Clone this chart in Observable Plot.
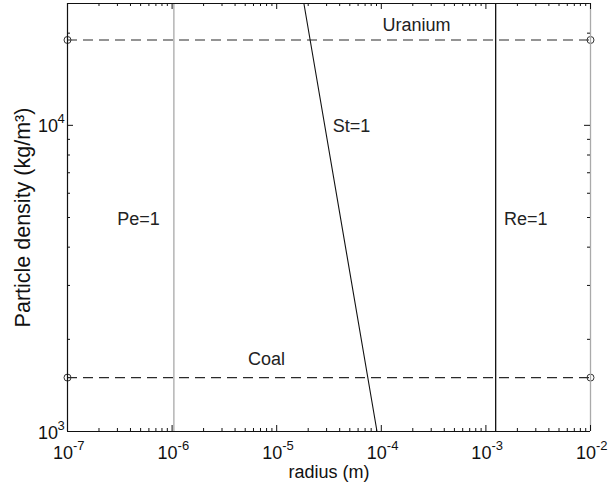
<!DOCTYPE html>
<html><head><meta charset="utf-8">
<script src="https://cdn.jsdelivr.net/npm/d3@7"></script>
<script src="https://cdn.jsdelivr.net/npm/@observablehq/plot@0.6"></script>
<style>body{margin:0;background:#fff} svg{display:block}</style>
</head><body><div id="chart"></div>
<script>
// ---- data ----
const xDomain = [1e-7, 1e-2];          // radius (m)
const yDomain = [1000, 25000];         // particle density (kg/m^3)
const xTickExps = [-7, -6, -5, -4, -3, -2];
const yTickExps = [3, 4];
const minorMultiples = [2, 3, 4, 5, 6, 7, 8, 9];

const materialNames = ["Uranium", "Coal"];
const materialDensity = [19000, 1500];

const boundaryNames = ["Pe=1", "Re=1"];
const boundaryRadius = [1.04e-6, 1.24e-3];

const stokesRadius = [1.82e-5, 9.1e-5];
const stokesDensity = [25000, 1000];

const labelText = ["Uranium", "St=1", "Pe=1", "Re=1", "Coal"];
const labelRadius = [2.17e-4, 5.19e-5, 4.77e-7, 2.41e-3, 7.98e-6];
const labelDensity = [20400, 9480, 4710, 4710, 1643];

const xLabel = "radius (m)";
const yLabel = "Particle density (kg/m³)";

// ---- derived tables ----
const xMajor = xTickExps.map(e => 10 ** e);
const yMajor = yTickExps.map(e => 10 ** e);
const xMinor = xTickExps.slice(0, -1).flatMap(e => minorMultiples.map(m => m * 10 ** e));
const yMinor = [...minorMultiples.map(m => m * 1000), 20000];
const endDots = materialDensity.flatMap(d => xDomain.map(x => ({x, y: d})));
const stokes = stokesRadius.map((r, i) => ({r, rho: stokesDensity[i]}));
const labels = labelText.map((t, i) => ({t, r: labelRadius[i], rho: labelDensity[i]}));
const boundaries = boundaryNames.map((n, i) => ({n, r: boundaryRadius[i]}));

const W = 608, H = 487, mL = 67, mR = 18, mT = 3, mB = 56;
const fw = W - mL - mR, fh = H - mT - mB;
const font = "'Liberation Sans', Arial, Helvetica, sans-serif";
const ink = "#111";

const chart = Plot.plot({
  width: W, height: H,
  marginLeft: mL, marginRight: mR, marginTop: mT, marginBottom: mB,
  style: {fontFamily: font, fontSize: "18px", background: "#fff", color: ink},
  x: {type: "log", domain: xDomain, axis: null},
  y: {type: "log", domain: yDomain, axis: null},
  marks: [
    // dashed material lines
    Plot.ruleY(materialDensity, {y: d => d, stroke: "#2a2a2a", strokeWidth: 1.1, strokeDasharray: "10,6"}),
    Plot.dot(endDots, {x: "x", y: "y", r: 3.5, stroke: "#333", strokeWidth: 1, fill: "none"}),
    // Pe=1 and Re=1
    Plot.ruleX(boundaries, {x: "r", stroke: d => d.n === "Pe=1" ? "#a8a8a8" : "#111", strokeWidth: 1.3}),
    // St=1
    Plot.line(stokes, {x: "r", y: "rho", stroke: "#111", strokeWidth: 1.1}),
    // frame
    Plot.ruleY([yDomain[1]], {stroke: ink, strokeWidth: 1.2}),
    Plot.ruleY([yDomain[0]], {stroke: ink, strokeWidth: 1.2}),
    Plot.ruleX([xDomain[0]], {stroke: ink, strokeWidth: 1.2}),
    Plot.ruleX([xDomain[1]], {stroke: "#aaa", strokeWidth: 1.3}),
    // x ticks bottom & top
    Plot.tickX(xMajor, {x: d => d, insetTop: fh - 6, stroke: ink}),
    Plot.tickX(xMinor, {x: d => d, insetTop: fh - 3, stroke: ink}),
    Plot.tickX(xMajor, {x: d => d, insetBottom: fh - 6, stroke: ink}),
    Plot.tickX(xMinor, {x: d => d, insetBottom: fh - 3, stroke: ink}),
    // y ticks left & right
    Plot.tickY(yMajor, {y: d => d, insetRight: fw - 6, stroke: ink}),
    Plot.tickY(yMinor, {y: d => d, insetRight: fw - 3, stroke: ink}),
    Plot.tickY(yMajor, {y: d => d, insetLeft: fw - 6, stroke: ink}),
    Plot.tickY(yMinor, {y: d => d, insetLeft: fw - 3, stroke: ink}),
    // x tick labels
    Plot.text(xTickExps, {x: e => 10 ** e, frameAnchor: "bottom", text: () => "10", textAnchor: "end",
      lineAnchor: "bottom", dx: 5.5, dy: 27, fontSize: 18, fill: ink}),
    Plot.text(xTickExps, {x: e => 10 ** e, frameAnchor: "bottom", text: e => `${e}`, textAnchor: "start",
      lineAnchor: "bottom", dx: 5.5, dy: 18, fontSize: 13, fill: ink}),
    // y tick labels
    Plot.text(yTickExps, {y: e => 10 ** e, frameAnchor: "left", text: () => "10", textAnchor: "end",
      lineAnchor: "bottom", dx: -9.5, dy: 7, fontSize: 18, fill: ink}),
    Plot.text(yTickExps, {y: e => 10 ** e, frameAnchor: "left", text: e => `${e}`, textAnchor: "start",
      lineAnchor: "bottom", dx: -10, dy: -2, fontSize: 13, fill: ink}),
    // annotations
    Plot.text(labels, {x: "r", y: "rho", text: "t", textAnchor: "middle", lineAnchor: "bottom", fontSize: 18, fill: "#222"}),
    // axis titles
    Plot.text([xLabel], {frameAnchor: "bottom", text: d => d, textAnchor: "middle", lineAnchor: "bottom", dy: 46, fontSize: 18, fill: ink}),
    Plot.text([yLabel], {frameAnchor: "left", text: d => d, rotate: -90, textAnchor: "middle", lineAnchor: "bottom", dx: -38, fontSize: 21.5, fill: ink})
  ]
});
document.getElementById("chart").append(chart);
</script>
</body></html>
